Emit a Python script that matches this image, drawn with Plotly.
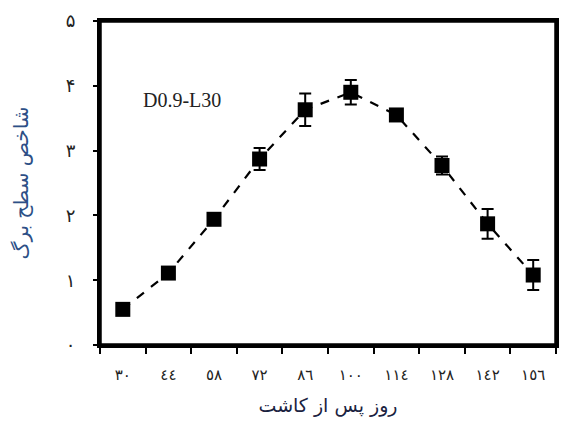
import plotly.graph_objects as go

days = ["٣٠", "٤٤", "٥٨", "٧٢", "٨٦", "١٠٠", "١١٤", "١٢٨", "١٤٢", "١٥٦"]
lai = [0.55, 1.11, 1.94, 2.87, 3.63, 3.90, 3.55, 2.77, 1.87, 1.08]
lai_err = [0.0, 0.0, 0.0, 0.17, 0.25, 0.19, 0.0, 0.14, 0.23, 0.23]
y_ticks = [0, 1, 2, 3, 4, 5]
y_tick_labels = ["۰", "۱", "۲", "۳", "۴", "۵"]
label_text = "D0.9-L30"
x_title = "روز پس از کاشت"
y_title = "شاخص سطح برگ"

fig = go.Figure()
fig.add_trace(go.Scatter(
    x=days, y=lai, mode="lines+markers",
    line=dict(color="black", width=2.2, dash="dash"),
    marker=dict(symbol="square", size=15, color="black"),
    error_y=dict(type="data", array=lai_err, visible=True, color="black",
                 thickness=2, width=6),
    showlegend=False,
))

fig.add_annotation(x=0.09, y=0.755, xref="paper", yref="paper",
                   text=label_text, showarrow=False, xanchor="left", yanchor="middle",
                   font=dict(family="Liberation Serif", size=20, color="#222"))

fig.add_shape(type="rect", xref="paper", yref="paper", x0=0, y0=0, x1=1, y1=1,
              line=dict(color="black", width=3.5), layer="above")

fig.update_layout(
    width=563, height=429,
    margin=dict(l=100, r=4, t=21, b=84),
    plot_bgcolor="white", paper_bgcolor="white",
    xaxis=dict(type="category", range=[-0.5, 9.5], tickson="boundaries",
               showline=True, linewidth=3, linecolor="black", mirror=True,
               ticks="outside", ticklen=6, tickwidth=1.5, tickcolor="black",
               ticklabelstandoff=14,
               showgrid=False, zeroline=False,
               tickfont=dict(family="DejaVu Sans", size=15, color="#222"),
               title=dict(text=x_title, standoff=16,
                          font=dict(family="DejaVu Sans", size=19, color="#1a2240"))),
    yaxis=dict(range=[0, 5], tickvals=y_ticks, ticktext=y_tick_labels,
               showline=True, linewidth=3, linecolor="black", mirror=True,
               ticks="outside", ticklen=4, tickwidth=1.5, tickcolor="black",
               ticklabelstandoff=14,
               showgrid=False, zeroline=False,
               tickfont=dict(family="DejaVu Sans", size=18, color="#222"),
               title=dict(text=y_title, standoff=32,
                          font=dict(family="DejaVu Sans", size=20, color="#2d4f86"))),
)

fig.write_html("out.html", config={"displayModeBar": False},
               post_script="document.body.style.margin='0';")
